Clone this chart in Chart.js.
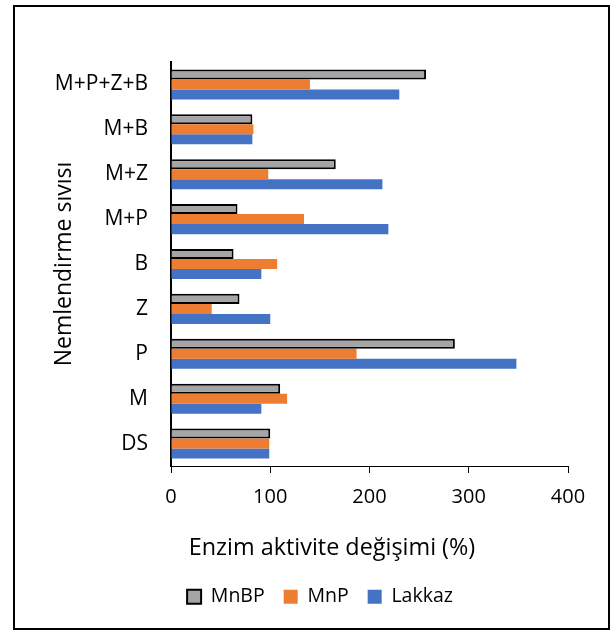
<!DOCTYPE html>
<html>
<head>
<meta charset="utf-8">
<script src="https://cdn.jsdelivr.net/npm/chart.js@4/dist/chart.umd.min.js"></script>
<style>
html,body{margin:0;padding:0;background:#fff;}
#wrap{position:absolute;left:0;top:0;width:616px;height:633px;}
</style>
</head>
<body>
<div id="wrap"><canvas id="c" width="616" height="633"></canvas></div>
<script>
const categories = ["M+P+Z+B", "M+B", "M+Z", "M+P", "B", "Z", "P", "M", "DS"];
const mnbp   = [257, 82, 166, 67, 63, 69, 286, 110, 100];
const mnp    = [140, 83, 98, 134, 107, 41, 187, 117, 99];
const lakkaz = [230, 82, 213, 219, 91, 100, 348, 91, 99];
const xTicks = [0, 100, 200, 300, 400];
const xTitle = 'Enzim aktivite değişimi (%)';
const yTitle = 'Nemlendirme sıvısı';

const FONT = "Open Sans";

const framePlugin = {
  id: 'frame',
  beforeDraw(chart) {
    const ctx = chart.ctx;
    ctx.save();
    ctx.fillStyle = '#fff';
    ctx.fillRect(0, 0, chart.width, chart.height);
    ctx.strokeStyle = '#000';
    ctx.lineWidth = 2;
    ctx.strokeRect(14, 6, 595, 623);
    ctx.restore();
  },
  afterLayout(chart) {
    chart.legend.left += 29;
    chart.legend.right += 29;
  },
  afterDraw(chart) {
    const ctx = chart.ctx;
    ctx.save();
    ctx.fillStyle = '#000';
    ctx.font = '23.4px "' + FONT + '"';
    ctx.textAlign = 'center';
    ctx.textBaseline = 'middle';
    ctx.fillText(xTitle, 332, 548);
    ctx.restore();
  }
};

new Chart(document.getElementById('c'), {
  type: 'bar',
  data: {
    labels: categories,
    datasets: [
      { label: 'MnBP', data: mnbp, backgroundColor: '#A5A5A5', borderColor: '#000', borderWidth: 2 },
      { label: 'MnP', data: mnp, backgroundColor: '#ED7D31', borderWidth: 0 },
      { label: 'Lakkaz', data: lakkaz, backgroundColor: '#4472C4', borderWidth: 0 }
    ]
  },
  plugins: [framePlugin],
  options: {
    indexAxis: 'y',
    responsive: false,
    animation: false,
    devicePixelRatio: 1,
    categoryPercentage: 0.67,
    barPercentage: 1.0,
    layout: { padding: { left: 14, right: 48, top: 62, bottom: 16.5 } },
    scales: {
      x: {
        min: 0, max: 400,
        afterBuildTicks(scale) { scale.ticks = xTicks.map(v => ({ value: v })); },
        afterFit(scale) { scale.height = 102; },
        grid: { drawOnChartArea: false, drawTicks: true, tickLength: 7, color: '#000', lineWidth: 1 },
        border: { display: true, color: '#000', width: 1 },
        ticks: { color: '#000', font: { family: FONT, size: 20 }, padding: 12 },
        title: { display: false, text: xTitle }
      },
      y: {
        afterFit(scale) { scale.width = 157; },
        grid: { display: false, drawTicks: false },
        border: { display: true, color: '#000', width: 2 },
        ticks: { color: '#000', font: { family: FONT, size: 21 }, padding: 23 },
        title: { display: true, text: yTitle, color: '#000',
                 font: { family: FONT, size: 23 }, padding: { top: 37, bottom: 0 } }
      }
    },
    plugins: {
      legend: {
        position: 'bottom',
        labels: {
          color: '#000',
          font: { family: FONT, size: 19.5 },
          boxWidth: 14, boxHeight: 14,
          padding: 19,
          generateLabels(chart) {
            return chart.data.datasets.map((ds, i) => ({
              text: ds.label,
              fillStyle: ds.backgroundColor,
              strokeStyle: i === 0 ? '#000' : ds.backgroundColor,
              lineWidth: i === 0 ? 2 : 0,
              datasetIndex: i,
              hidden: false
            }));
          }
        }
      },
      tooltip: { enabled: false }
    }
  }
});
</script>
</body>
</html>
